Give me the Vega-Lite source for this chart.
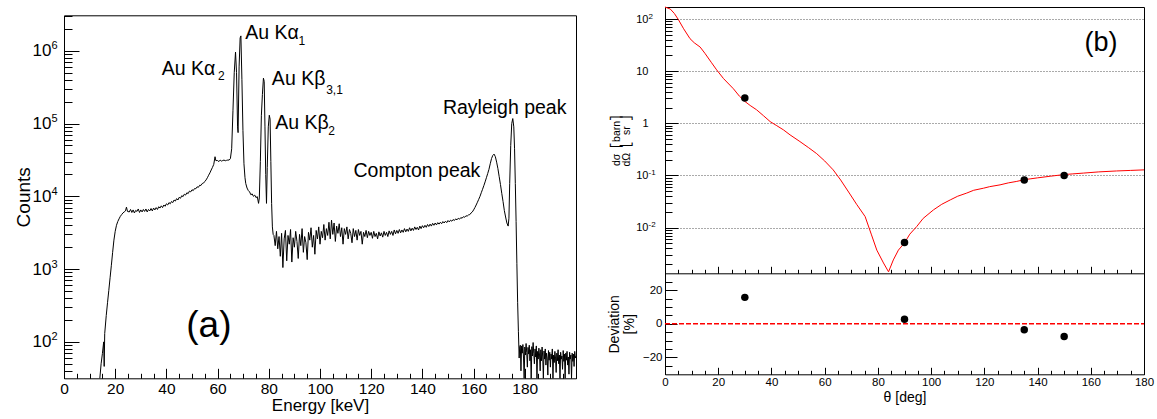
{
"$schema": "https://vega.github.io/schema/vega-lite/v6.json",
"width": 1157, "height": 419,
"autosize": {"type": "none"},
"padding": 0,
"config": {
 "font": "Liberation Sans",
 "view": {"stroke": null},
 "axis": {"domain": false, "grid": false, "labelColor": "#000", "titleColor": "#000", "tickColor": "#000", "domainColor": "#000", "titleFontWeight": "normal", "labelFlush": false, "labelOverlap": false, "labelBound": false, "tickWidth": 1, "domainWidth": 1}
},
"datasets": {
 "spec": [
  {"e":14.0,"c":30},{"e":14.5,"c":50},{"e":15.0,"c":69},{"e":15.5,"c":100},{"e":15.7,"c":46},{"e":15.9,"c":130},{"e":16.5,"c":230},{"e":17.0,"c":345},{"e":17.5,"c":510},{"e":18.0,"c":760},{"e":18.5,"c":1130},{"e":19.0,"c":1700},{"e":19.5,"c":2500},{"e":20.0,"c":3300},{"e":20.5,"c":4000},{"e":21.0,"c":4500},{"e":21.5,"c":4900},{"e":22.0,"c":5300},{"e":22.5,"c":5600},{"e":23.0,"c":5900},{"e":23.5,"c":6100},{"e":24.0,"c":6300},{"e":24.4,"c":7100},{"e":24.8,"c":6200},
  {"e":25.5,"c":6100},{"e":26,"c":6600},{"e":26.5,"c":6000},{"e":27,"c":6500},{"e":27.5,"c":5900},{"e":28,"c":6400},{"e":28.5,"c":6200},{"e":29,"c":6700},{"e":29.5,"c":6000},{"e":30,"c":6500},{"e":30.5,"c":6100},{"e":31,"c":6600},{"e":31.5,"c":6200},{"e":32,"c":6700},{"e":32.5,"c":6100},{"e":33,"c":6600},{"e":33.5,"c":6300},{"e":34,"c":6800},{"e":34.5,"c":6300},{"e":35,"c":6900},{"e":35.5,"c":6500},{"e":36,"c":7000},{"e":36.5,"c":6600},{"e":37,"c":7200},{"e":37.5,"c":6900},{"e":38,"c":7400},{"e":38.5,"c":7000},{"e":39,"c":7600},{"e":39.5,"c":7300},{"e":40,"c":7900},{"e":40.5,"c":7600},{"e":41,"c":8200},{"e":41.5,"c":7900},{"e":42,"c":8500},{"e":42.5,"c":8200},{"e":43,"c":8900},{"e":43.5,"c":8600},{"e":44,"c":9300},{"e":44.5,"c":8900},{"e":45,"c":9700},{"e":45.5,"c":9400},{"e":46,"c":10200},{"e":46.5,"c":9900},{"e":47,"c":10700},{"e":47.5,"c":10400},{"e":48,"c":11200},{"e":48.5,"c":10900},{"e":49,"c":11800},{"e":49.5,"c":11500},{"e":50,"c":12300},{"e":50.5,"c":12000},{"e":51,"c":12800},{"e":51.5,"c":12700},{"e":52,"c":13500},{"e":52.5,"c":13300},{"e":53,"c":14200},{"e":53.5,"c":14100},{"e":54,"c":15000},{"e":54.5,"c":15200},{"e":55,"c":16000},{"e":55.5,"c":16800},{"e":56,"c":18000},{"e":56.5,"c":19500},{"e":57,"c":21000},{"e":57.5,"c":23000},{"e":58,"c":25000},{"e":58.5,"c":27500},{"e":59,"c":35000},{"e":59.3,"c":31000},{"e":60,"c":31000},{"e":60.5,"c":30000},{"e":61,"c":31500},{"e":61.5,"c":30500},{"e":62,"c":31000},{"e":62.5,"c":31500},{"e":63,"c":30800},{"e":63.5,"c":31200},{"e":64,"c":31500},{"e":64.5,"c":31500},{"e":65,"c":33000},{"e":65.5,"c":45000},{"e":66,"c":150000},{"e":66.5,"c":500000},{"e":67.0,"c":960000},{"e":67.4,"c":500000},{"e":67.8,"c":90000},{"e":68.0,"c":75000},{"e":68.4,"c":600000},{"e":68.8,"c":1500000},{"e":69.1,"c":1600000},{"e":69.5,"c":400000},{"e":69.9,"c":80000},{"e":70.3,"c":28000},{"e":70.7,"c":18000},{"e":71.0,"c":15000},{"e":71.5,"c":13000},{"e":72,"c":12000},{"e":72.5,"c":11500},{"e":73,"c":10500},{"e":73.5,"c":10800},{"e":74,"c":10000},{"e":74.5,"c":10400},{"e":75,"c":9600},{"e":75.5,"c":9900},{"e":76,"c":8000},{"e":76.3,"c":9500},{"e":76.7,"c":30000},{"e":77.1,"c":130000},{"e":77.5,"c":250000},{"e":77.9,"c":420000},{"e":78.2,"c":380000},{"e":78.5,"c":90000},{"e":78.8,"c":20000},{"e":79.1,"c":8000},{"e":79.4,"c":25000},{"e":79.8,"c":90000},{"e":80.2,"c":130000},{"e":80.5,"c":115000},{"e":80.8,"c":30000},{"e":81.1,"c":8000},{"e":81.4,"c":3800},{"e":81.7,"c":3000},
  {"e":82.0,"c":2900},{"e":82.5,"c":2100},{"e":83.0,"c":3300},{"e":83.5,"c":1900},{"e":84.0,"c":2800},{"e":84.5,"c":1500},{"e":85.0,"c":3100},{"e":85.5,"c":1050},{"e":86.0,"c":2600},{"e":86.5,"c":3400},{"e":87.0,"c":1300},{"e":87.5,"c":2900},{"e":88.0,"c":2200},{"e":88.5,"c":3500},{"e":89.0,"c":1250},{"e":89.5,"c":2700},{"e":90.0,"c":2000},{"e":90.5,"c":3300},{"e":91.0,"c":2400},{"e":91.5,"c":1400},{"e":92.0,"c":3000},{"e":92.5,"c":2100},{"e":93.0,"c":3600},{"e":93.5,"c":1700},{"e":94.0,"c":2800},{"e":94.5,"c":2300},{"e":95.0,"c":1350},{"e":95.5,"c":3200},{"e":96.0,"c":2500},{"e":96.5,"c":3700},{"e":97.0,"c":2000},{"e":97.5,"c":2900},{"e":98.0,"c":1600},{"e":98.5,"c":3400},{"e":99.0,"c":2600},{"e":99.5,"c":3800},{"e":100.0,"c":2200},{"e":100.5,"c":3300},{"e":101.0,"c":2700},{"e":101.5,"c":4100},{"e":102.0,"c":2500},{"e":102.5,"c":3600},{"e":103.0,"c":2900},{"e":103.5,"c":4400},{"e":104.0,"c":2600},{"e":104.5,"c":4700},{"e":105.0,"c":3000},{"e":105.5,"c":4300},{"e":106.0,"c":2400},{"e":106.5,"c":3900},{"e":107.0,"c":3100},{"e":107.5,"c":4200},{"e":108.0,"c":2800},{"e":108.5,"c":3700},{"e":109.0,"c":2200},{"e":109.5,"c":3600},{"e":110.0,"c":3000},{"e":110.5,"c":3800},{"e":111.0,"c":2600},{"e":111.5,"c":3500},{"e":112.0,"c":3100},{"e":112.5,"c":2300},{"e":113.0,"c":3600},{"e":113.5,"c":2800},{"e":114.0,"c":3400},{"e":114.5,"c":2500},{"e":115.0,"c":3500},{"e":115.5,"c":2900},{"e":116.0,"c":3300},{"e":116.5,"c":2200},{"e":117.0,"c":3200},{"e":117.5,"c":2800},{"e":118.0,"c":3400},{"e":118.5,"c":2700},{"e":119.0,"c":3300},{"e":119.5,"c":2900},{"e":120.0,"c":3200},{"e":120.5,"c":2650},{"e":121.0,"c":3300},{"e":121.5,"c":2800},{"e":122.0,"c":3100},{"e":122.5,"c":2600},{"e":123.0,"c":3250},{"e":123.5,"c":2850},{"e":124.0,"c":3150},{"e":124.5,"c":2750},{"e":125.0,"c":3300},{"e":125.5,"c":2900},{"e":126.0,"c":3200},{"e":126.5,"c":2800},{"e":127.0,"c":3350},{"e":127.5,"c":3000},{"e":128.0,"c":3300},{"e":128.5,"c":2900},{"e":129.0,"c":3450},{"e":129.5,"c":3050},{"e":130.0,"c":3400},
  {"e":130.5,"c":3100},{"e":131,"c":3500},{"e":131.5,"c":3150},{"e":132,"c":3450},{"e":132.5,"c":3200},{"e":133,"c":3600},{"e":133.5,"c":3250},{"e":134,"c":3550},{"e":134.5,"c":3300},{"e":135,"c":3700},{"e":135.5,"c":3350},{"e":136,"c":3650},{"e":136.5,"c":3400},{"e":137,"c":3800},{"e":137.5,"c":3500},{"e":138,"c":3750},{"e":138.5,"c":3450},{"e":139,"c":3900},{"e":139.5,"c":3600},{"e":140,"c":3950},{"e":140.5,"c":3700},{"e":141,"c":4000},{"e":141.5,"c":3750},{"e":142,"c":4100},{"e":142.5,"c":3850},{"e":143,"c":4150},{"e":143.5,"c":3900},{"e":144,"c":4250},{"e":144.5,"c":4000},{"e":145,"c":4300},{"e":145.5,"c":4050},{"e":146,"c":4350},{"e":146.5,"c":4150},{"e":147,"c":4400},{"e":147.5,"c":4200},{"e":148,"c":4500},{"e":148.5,"c":4300},{"e":149,"c":4550},{"e":149.5,"c":4350},{"e":150,"c":4650},{"e":150.5,"c":4450},{"e":151,"c":4700},{"e":151.5,"c":4550},{"e":152,"c":4800},{"e":152.5,"c":4650},{"e":153,"c":4900},{"e":153.5,"c":4750},{"e":154,"c":5000},{"e":154.5,"c":4850},{"e":155,"c":5100},{"e":155.5,"c":5000},{"e":156,"c":5250},{"e":156.5,"c":5150},{"e":157,"c":5400},{"e":157.5,"c":5350},{"e":158,"c":5550},{"e":158.5,"c":5600},{"e":159,"c":5900},{"e":159.5,"c":6100},{"e":160,"c":6500},
  {"e":160.5,"c":7000},{"e":161,"c":7600},{"e":161.5,"c":8300},{"e":162,"c":9100},{"e":162.5,"c":10000},{"e":163,"c":11200},{"e":163.5,"c":12500},{"e":164,"c":14000},{"e":164.5,"c":15800},{"e":165,"c":18000},{"e":165.5,"c":20500},{"e":166,"c":23500},{"e":166.5,"c":28000},{"e":167,"c":33000},{"e":167.5,"c":36500},{"e":168,"c":38000},{"e":168.5,"c":35000},{"e":169,"c":29500},{"e":169.5,"c":24000},{"e":170,"c":18600},{"e":170.5,"c":14500},{"e":171,"c":11000},{"e":171.5,"c":8500},{"e":172,"c":6400},{"e":172.5,"c":5200},{"e":173,"c":4300},{"e":173.5,"c":3900},{"e":173.8,"c":5000},{"e":174.1,"c":15000},{"e":174.5,"c":50000},{"e":174.9,"c":100000},{"e":175.3,"c":117000},{"e":175.7,"c":90000},{"e":176,"c":45000},{"e":176.3,"c":15000},{"e":176.6,"c":4500},{"e":176.9,"c":1200},{"e":177.2,"c":350},{"e":177.5,"c":140},{"e":177.8,"c":60},{"e":178,"c":85},
  {"e":178.25,"c":90},{"e":178.5,"c":40},{"e":178.75,"c":88},{"e":179,"c":70},{"e":179.25,"c":92},{"e":179.5,"c":60},{"e":179.75,"c":20},{"e":180,"c":85},{"e":180.25,"c":66},{"e":180.5,"c":95},{"e":180.75,"c":72},{"e":181,"c":45},{"e":181.25,"c":84},{"e":181.5,"c":68},{"e":181.75,"c":90},{"e":182,"c":55},{"e":182.25,"c":78},{"e":182.5,"c":25},{"e":182.75,"c":86},{"e":183,"c":64},{"e":183.25,"c":98},{"e":183.5,"c":70},{"e":183.75,"c":50},{"e":184,"c":80},{"e":184.25,"c":62},{"e":184.5,"c":88},{"e":184.75,"c":30},{"e":185,"c":74},{"e":185.25,"c":58},{"e":185.5,"c":82},{"e":185.75,"c":66},{"e":186,"c":40},{"e":186.25,"c":78},{"e":186.5,"c":55},{"e":186.75,"c":85},{"e":187,"c":62},{"e":187.25,"c":22},{"e":187.5,"c":75},{"e":187.75,"c":58},{"e":188,"c":80},{"e":188.25,"c":48},{"e":188.5,"c":70},{"e":188.75,"c":60},{"e":189,"c":35},{"e":189.25,"c":76},{"e":189.5,"c":56},{"e":189.75,"c":72},{"e":190,"c":45},{"e":190.25,"c":68},{"e":190.5,"c":58},{"e":190.75,"c":80},{"e":191,"c":28},{"e":191.25,"c":66},{"e":191.5,"c":52},{"e":191.75,"c":74},{"e":192,"c":60},{"e":192.25,"c":38},{"e":192.5,"c":70},{"e":192.75,"c":55},{"e":193,"c":78},{"e":193.25,"c":50},{"e":193.5,"c":66},{"e":193.75,"c":24},{"e":194,"c":72},{"e":194.25,"c":58},{"e":194.5,"c":64},{"e":194.75,"c":42},{"e":195,"c":76},{"e":195.25,"c":54},{"e":195.5,"c":68},{"e":195.75,"c":30},{"e":196,"c":70},{"e":196.25,"c":56},{"e":196.5,"c":74},{"e":196.75,"c":48},{"e":197,"c":62},{"e":197.25,"c":36},{"e":197.5,"c":72},{"e":197.75,"c":58},{"e":198,"c":66},{"e":198.25,"c":26},{"e":198.5,"c":70},{"e":198.75,"c":54},{"e":199,"c":68},{"e":199.25,"c":46},{"e":199.5,"c":74},{"e":199.75,"c":60},{"e":200,"c":64}
 ],
 "lab": [
  {"e":38.2,"c":460000,"t":"Au Kα"},
  {"e":70.8,"c":1470000,"t":"Au Kα"},
  {"e":81.2,"c":335000,"t":"Au Kβ"},
  {"e":82.5,"c":85300,"t":"Au Kβ"},
  {"e":113.1,"c":18400,"t":"Compton peak"},
  {"e":148.0,"c":137000,"t":"Rayleigh peak"}
 ],
 "sub": [
  {"e":60.2,"c":393000,"t":"2"},
  {"e":91.6,"c":1190000,"t":"1"},
  {"e":102.4,"c":258000,"t":"3,1"},
  {"e":103.2,"c":68900,"t":"2"}
 ],
 "curve": [
  {"t":0,"v":172},{"t":2,"v":155},{"t":3.5,"v":128},{"t":5,"v":98},{"t":7,"v":65},{"t":9.4,"v":42},{"t":11,"v":35},{"t":13.2,"v":29},{"t":15,"v":22},{"t":17.5,"v":14.5},{"t":19.4,"v":10.6},{"t":22,"v":7.2},{"t":25.7,"v":4.6},{"t":28,"v":3.3},{"t":30,"v":2.63},{"t":32,"v":2.2},{"t":34.4,"v":1.82},{"t":37,"v":1.4},{"t":39.5,"v":1.08},{"t":42,"v":0.9},{"t":44.5,"v":0.75},{"t":47,"v":0.6},{"t":50.7,"v":0.447},{"t":54,"v":0.34},{"t":57,"v":0.262},{"t":60,"v":0.19},{"t":63.2,"v":0.128},{"t":66,"v":0.082},{"t":69.5,"v":0.044},{"t":72,"v":0.028},{"t":75.2,"v":0.0163},{"t":77.5,"v":0.0075},{"t":79.6,"v":0.0037},{"t":82.1,"v":0.0021},{"t":84,"v":0.00142},{"t":85.8,"v":0.0024},{"t":87.7,"v":0.0037},{"t":90,"v":0.0051},{"t":92,"v":0.0075},{"t":94.6,"v":0.0105},{"t":97,"v":0.015},{"t":100.9,"v":0.0219},{"t":104,"v":0.028},{"t":107.2,"v":0.034},{"t":110,"v":0.04},{"t":113.4,"v":0.046},{"t":116,"v":0.052},{"t":119.7,"v":0.057},{"t":122,"v":0.061},{"t":125.9,"v":0.066},{"t":129,"v":0.072},{"t":132.2,"v":0.077},{"t":135,"v":0.083},{"t":137.2,"v":0.086},{"t":140,"v":0.09},{"t":145,"v":0.097},{"t":150,"v":0.104},{"t":153,"v":0.107},{"t":157.2,"v":0.111},{"t":163,"v":0.117},{"t":169.7,"v":0.122},{"t":175,"v":0.125},{"t":180,"v":0.128}
 ],
 "pts": [{"t":30,"v":3.05},{"t":90,"v":0.0052},{"t":135,"v":0.0815},{"t":150,"v":0.1}],
 "dev": [{"t":30,"d":15.7},{"t":90,"d":2.7},{"t":135,"d":-3.6},{"t":150,"d":-7.5}]
},
"resolve": {"scale": {"x": "independent", "y": "independent"}, "axis": {"x": "independent", "y": "independent"}},
"layer": [
 {
  "data": {"name": "spec"},
  "mark": {"type": "line", "color": "#000", "strokeWidth": 1},
  "encoding": {
   "x": {"field": "e", "type": "quantitative", "scale": {"domain": [0, 200], "range": [64, 576], "nice": false, "zero": false},
    "axis": {"orient": "bottom", "offset": -40.7, "domain": true, "ticks": false, "values": [0,20,40,60,80,100,120,140,160,180], "labelFontSize": 15.5, "labelPadding": 3, "title": "Energy [keV]", "titleFontSize": 17, "titleY": 32.5, "titleBaseline": "alphabetic"}},
   "y": {"field": "c", "type": "quantitative", "scale": {"type": "log", "domain": [31.6, 3070000], "range": [378.3, 15.3], "nice": false, "clamp": true},
    "axis": {"orient": "left", "offset": -64, "domain": true, "ticks": false, "values": [100,1000,10000,100000,1000000], "labelExpr": "'10'", "labelFontSize": 17, "labelPadding": 13, "title": "Counts", "titleFontSize": 19, "titleX": -35, "titleY": 196.8, "titleBaseline": "alphabetic"}}
  }
 },
 {
  "data": {"name": "lab"},
  "mark": {"type": "text", "align": "left", "baseline": "alphabetic", "fontSize": 19.5, "color": "#000"},
  "encoding": {
   "x": {"field": "e", "type": "quantitative", "scale": {"domain": [0, 200], "range": [64, 576], "nice": false, "zero": false},
    "axis": {"orient": "top", "offset": -378.3, "values": [0,20,40,60,80,100,120,140,160,180,200], "labels": false, "tickSize": 10, "title": null}},
   "y": {"field": "c", "type": "quantitative", "scale": {"type": "log", "domain": [31.6, 3070000], "range": [378.3, 15.3], "nice": false, "clamp": true},
    "axis": {"orient": "left", "offset": -64, "values": [100,1000,10000,100000,1000000], "ticks": false, "labelAlign": "left", "labelPadding": 13, "labelOffset": -5, "labelFontSize": 11, "labelExpr": "'' + round(log(datum.value)/LN10)", "title": null}},
   "text": {"field": "t"}
  }
 },
 {
  "data": {"name": "sub"},
  "mark": {"type": "text", "align": "left", "baseline": "alphabetic", "fontSize": 12, "color": "#000"},
  "encoding": {
   "x": {"field": "e", "type": "quantitative", "scale": {"domain": [0, 200], "range": [64, 576], "nice": false, "zero": false},
    "axis": {"orient": "top", "offset": -378.3, "values": [5,10,15,25,30,35,45,50,55,65,70,75,85,90,95,105,110,115,125,130,135,145,150,155,165,170,175,185,190,195], "labels": false, "tickSize": 5, "title": null}},
   "y": {"field": "c", "type": "quantitative", "scale": {"type": "log", "domain": [31.6, 3070000], "range": [378.3, 15.3], "nice": false, "clamp": true},
    "axis": {"orient": "right", "offset": -1093, "values": [100,1000,10000,100000,1000000], "labels": false, "tickSize": 15, "title": null}},
   "text": {"field": "t"}
  }
 },
 {
  "data": {"values": [{"e": 56.6, "c": 116, "t": "(a)"}]},
  "mark": {"type": "text", "align": "center", "baseline": "alphabetic", "fontSize": 37, "color": "#000"},
  "encoding": {
   "x": {"field": "e", "type": "quantitative", "scale": {"domain": [0, 200], "range": [64, 576], "nice": false, "zero": false},
    "axis": {"orient": "top", "offset": -15.3, "domain": true, "ticks": false, "labels": false, "title": null}},
   "y": {"field": "c", "type": "quantitative", "scale": {"type": "log", "domain": [31.6, 3070000], "range": [378.3, 15.3], "nice": false, "clamp": true},
    "axis": {"orient": "right", "offset": -1093, "values": [40,50,60,70,80,90,200,300,400,500,600,700,800,900,2000,3000,4000,5000,6000,7000,8000,9000,20000,30000,40000,50000,60000,70000,80000,90000,200000,300000,400000,500000,600000,700000,800000,900000,2000000,3000000], "labels": false, "tickSize": 8, "title": null}},
   "text": {"field": "t"}
  }
 },
 {
  "data": {"values": []},
  "mark": {"type": "point"},
  "encoding": {
   "y": {"field": "c", "type": "quantitative", "scale": {"type": "log", "domain": [31.6, 3070000], "range": [378.3, 15.3], "nice": false},
    "axis": {"orient": "right", "offset": -581, "domain": true, "ticks": false, "labels": false, "title": null}}
  }
 },
 {
  "data": {"name": "curve"},
  "mark": {"type": "line", "color": "#ff0000", "strokeWidth": 1},
  "encoding": {
   "x": {"field": "t", "type": "quantitative", "scale": {"domain": [0, 180], "range": [665, 1144], "nice": false, "zero": false},
    "axis": {"orient": "top", "offset": -273.3, "domain": true, "values": [0,20,40,60,80,100,120,140,160,180], "labels": false, "tickSize": 7, "title": null}},
   "y": {"field": "v", "type": "quantitative", "scale": {"type": "log", "domain": [0.00133, 170], "range": [273.3, 7], "nice": false, "clamp": true},
    "axis": {"orient": "left", "offset": -665, "domain": true, "values": [0.01,0.1,1,10,100], "ticks": false, "grid": true, "gridDash": [1,2], "gridColor": "#555", "gridWidth": 1, "labelExpr": "datum.value == 1 ? '1' : '10'", "labelFontSize": 11, "labelPadding": 17,
     "encode": {"labels": {"update": {"dx": {"signal": "(datum.value == 1 || datum.value == 10) ? 14 : 0"}}}},
     "title": ["dσ\u00a0\u00a0⎡barn⎤", "dΩ\u00a0\u00a0⎣\u00a0\u00a0sr\u00a0\u00a0⎦"], "titleFontSize": 10.5, "titleLineHeight": 10.5, "titleX": -46, "titleY": 140, "titleBaseline": "alphabetic"}}
  }
 },
 {
  "data": {"name": "pts"},
  "mark": {"type": "circle", "size": 56, "color": "#000", "opacity": 1},
  "encoding": {
   "x": {"field": "t", "type": "quantitative", "scale": {"domain": [0, 180], "range": [665, 1144], "nice": false, "zero": false},
    "axis": {"orient": "top", "offset": -273.3, "values": [5,10,15,25,30,35,45,50,55,65,70,75,85,90,95,105,110,115,125,130,135,145,150,155,165,170,175], "labels": false, "tickSize": 4, "title": null}},
   "y": {"field": "v", "type": "quantitative", "scale": {"type": "log", "domain": [0.00133, 170], "range": [273.3, 7], "nice": false},
    "axis": {"orient": "left", "offset": -665, "values": [100,0.1,0.01], "ticks": false, "labelAlign": "left", "labelPadding": 17, "labelOffset": -3, "labelFontSize": 8, "labelExpr": "'' + round(log(datum.value)/LN10)", "title": null}}
  }
 },
 {
  "data": {"values": [{"t": 163.8, "v": 24.5, "s": "(b)"}]},
  "mark": {"type": "text", "align": "center", "baseline": "alphabetic", "fontSize": 27, "color": "#000"},
  "encoding": {
   "x": {"field": "t", "type": "quantitative", "scale": {"domain": [0, 180], "range": [665, 1144], "nice": false, "zero": false},
    "axis": {"orient": "top", "offset": -7, "domain": true, "ticks": false, "labels": false, "title": null}},
   "y": {"field": "v", "type": "quantitative", "scale": {"type": "log", "domain": [0.00133, 170], "range": [273.3, 7], "nice": false},
    "axis": {"orient": "right", "offset": -492, "values": [0.01,0.1,1,10,100], "labels": false, "tickSize": 13, "title": null}},
   "text": {"field": "s"}
  }
 },
 {
  "data": {"values": []},
  "mark": {"type": "point"},
  "encoding": {
   "y": {"field": "v", "type": "quantitative", "scale": {"type": "log", "domain": [0.00133, 170], "range": [273.3, 7], "nice": false},
    "axis": {"orient": "right", "offset": -492, "values": [0.002,0.003,0.004,0.005,0.006,0.007,0.008,0.009,0.02,0.03,0.04,0.05,0.06,0.07,0.08,0.09,0.2,0.3,0.4,0.5,0.6,0.7,0.8,0.9,2,3,4,5,6,7,8,9,20,30,40,50,60,70,80,90], "labels": false, "tickSize": 7, "title": null}}
  }
 },
 {
  "data": {"values": []},
  "mark": {"type": "point"},
  "encoding": {
   "y": {"field": "v", "type": "quantitative", "scale": {"type": "log", "domain": [0.00133, 170], "range": [273.3, 7], "nice": false},
    "axis": {"orient": "right", "offset": -13, "domain": true, "ticks": false, "labels": false, "title": null}}
  }
 },
 {
  "data": {"name": "dev"},
  "mark": {"type": "circle", "size": 56, "color": "#000", "opacity": 1},
  "encoding": {
   "x": {"field": "t", "type": "quantitative", "scale": {"domain": [0, 180], "range": [665, 1144], "nice": false, "zero": false},
    "axis": {"orient": "bottom", "offset": -44.7, "domain": true, "values": [0,20,40,60,80,100,120,140,160,180], "ticks": false, "labelFontSize": 11.5, "labelPadding": 2, "title": "θ [deg]", "titleFontSize": 14, "titleY": 27, "titleBaseline": "alphabetic"}},
   "y": {"field": "d", "type": "quantitative", "scale": {"domain": [-30, 30], "range": [374.3, 273.3], "nice": false, "zero": false},
    "axis": {"orient": "left", "offset": -665, "domain": true, "values": [-20,0,20], "ticks": false, "labelFontSize": 11.5, "labelPadding": 3, "title": ["Deviation", "[%]"], "titleFontSize": 14, "titleLineHeight": 15, "titleX": -46.7, "titleY": 323.8, "titleBaseline": "alphabetic"}}
  }
 },
 {
  "data": {"values": [{"d": 0}]},
  "mark": {"type": "rule", "color": "#ff0000", "strokeWidth": 1.5, "strokeDash": [5, 2]},
  "encoding": {
   "x": {"datum": 0, "type": "quantitative", "scale": {"domain": [0, 180], "range": [665, 1144], "nice": false, "zero": false}, "axis": null},
   "x2": {"datum": 180},
   "y": {"field": "d", "type": "quantitative", "scale": {"domain": [-30, 30], "range": [374.3, 273.3], "nice": false, "zero": false},
    "axis": {"orient": "right", "offset": -492, "values": [-20,0,20], "labels": false, "tickSize": 12, "title": null}}
  }
 },
 {
  "data": {"values": []},
  "mark": {"type": "point"},
  "encoding": {
   "x": {"field": "t", "type": "quantitative", "scale": {"domain": [0, 180], "range": [665, 1144], "nice": false, "zero": false},
    "axis": {"orient": "top", "offset": -374.3, "values": [0,20,40,60,80,100,120,140,160,180], "labels": false, "tickSize": 7, "title": null}},
   "y": {"field": "d", "type": "quantitative", "scale": {"domain": [-30, 30], "range": [374.3, 273.3], "nice": false, "zero": false},
    "axis": {"orient": "right", "offset": -492, "values": [-25,-15,-10,-5,5,10,15,25], "labels": false, "tickSize": 7, "title": null}}
  }
 },
 {
  "data": {"values": []},
  "mark": {"type": "point"},
  "encoding": {
   "x": {"field": "t", "type": "quantitative", "scale": {"domain": [0, 180], "range": [665, 1144], "nice": false, "zero": false},
    "axis": {"orient": "top", "offset": -374.3, "values": [5,10,15,25,30,35,45,50,55,65,70,75,85,90,95,105,110,115,125,130,135,145,150,155,165,170,175], "labels": false, "tickSize": 4, "title": null}},
   "y": {"field": "d", "type": "quantitative", "scale": {"domain": [-30, 30], "range": [374.3, 273.3], "nice": false, "zero": false},
    "axis": {"orient": "right", "offset": -13, "domain": true, "ticks": false, "labels": false, "title": null}}
  }
 }
]
}
